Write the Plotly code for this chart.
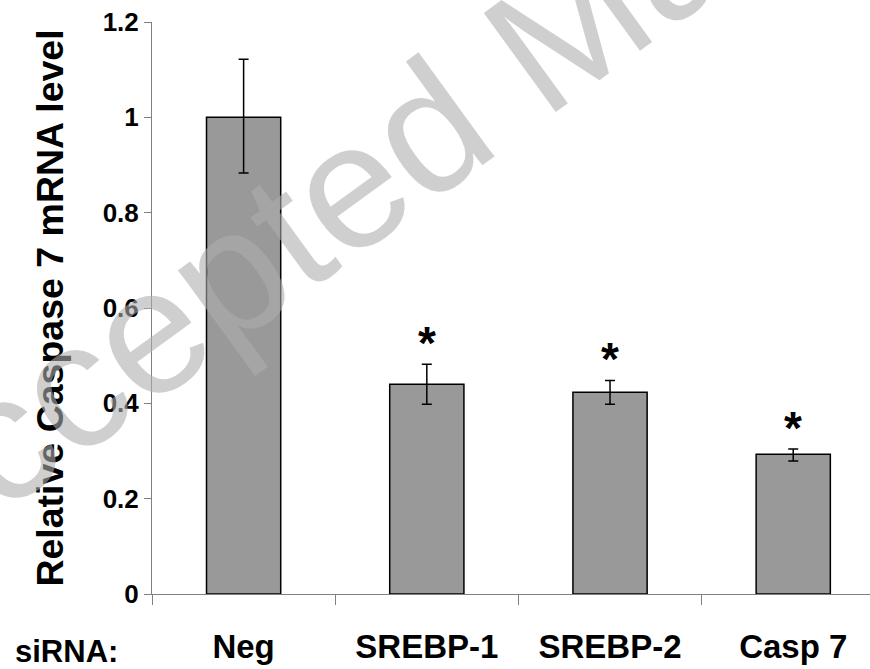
import plotly.graph_objects as go

categories = ["Neg", "SREBP-1", "SREBP-2", "Casp 7"]
values = [1.0, 0.44, 0.423, 0.293]
err_plus = [0.122, 0.042, 0.025, 0.011]
err_minus = [0.117, 0.042, 0.025, 0.014]
significant = [False, True, True, True]
y_ticks = [0, 0.2, 0.4, 0.6, 0.8, 1.0, 1.2]

FONT = "Liberation Sans, Arial, sans-serif"

fig = go.Figure()
fig.add_trace(go.Bar(
    x=categories, y=values, width=0.405,
    marker=dict(color="#999999", line=dict(color="black", width=1.5)),
    error_y=dict(type="data", symmetric=False, array=err_plus, arrayminus=err_minus,
                 color="black", thickness=1.5, width=5),
    showlegend=False,
))

annotations = []
for c, v, e, s in zip(categories, values, err_plus, significant):
    if s:
        annotations.append(dict(x=c, y=v + e + 0.055, xref="x", yref="y", text="*",
                                showarrow=False, yshift=-5,
                                font=dict(family=FONT, size=46, color="black", weight="bold")))

annotations.append(dict(x=(120 - 152) / 718, y=(594 - 651) / 572, xref="paper", yref="paper",
                        text="siRNA:", showarrow=False, xanchor="right", yanchor="middle",
                        font=dict(family=FONT, size=31, color="black", weight="bold")))

annotations.append(dict(x=(540 - 152) / 718, y=(594 - 48) / 572, xref="paper", yref="paper",
                        text="Accepted Manuscript", showarrow=False, textangle=-36,
                        xanchor="center", yanchor="middle",
                        font=dict(family=FONT, size=178, color="rgba(173,173,173,0.59)")))

fig.update_layout(
    width=870, height=669,
    margin=dict(l=152, r=0, t=22, b=75, autoexpand=False),
    paper_bgcolor="white", plot_bgcolor="white",
    annotations=annotations,
    xaxis=dict(
        type="category", range=[-0.5, 3.419],
        showline=True, linecolor="#808080", linewidth=1,
        ticks="outside", tickson="boundaries", ticklen=10, tickcolor="#808080", tickwidth=1,
        ticklabelstandoff=23,
        tickfont=dict(family=FONT, size=33, color="black", weight="bold"),
        showgrid=False, zeroline=False,
    ),
    yaxis=dict(
        range=[0, 1.2], tickvals=y_ticks,
        showline=True, linecolor="#808080", linewidth=1,
        ticks="outside", ticklen=7, tickcolor="#808080", tickwidth=1,
        tickfont=dict(family=FONT, size=26, color="black", weight="bold"),
        showgrid=False, zeroline=False,
        title=dict(text="Relative Caspase 7 mRNA level", standoff=27,
                   font=dict(family=FONT, size=37.5, color="black", weight="bold")),
    ),
)

fig.write_html("out.html", config={"displayModeBar": False},
               post_script="document.body.style.margin='0';document.body.style.overflow='hidden';")
